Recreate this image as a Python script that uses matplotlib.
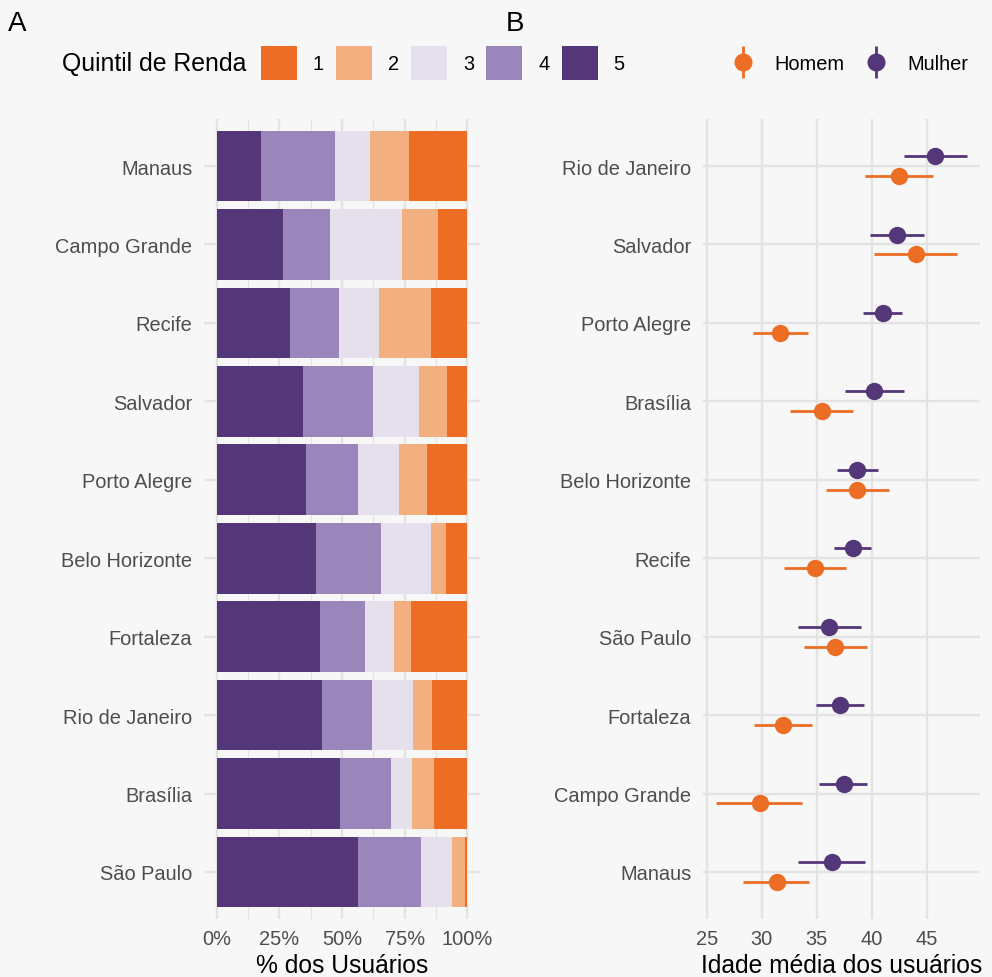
import matplotlib
matplotlib.use("Agg")
import matplotlib.pyplot as plt
import numpy as np
from matplotlib.patches import Patch
from matplotlib.lines import Line2D
from matplotlib.ticker import MultipleLocator, FixedLocator
from matplotlib.legend_handler import HandlerTuple

plt.rcParams['font.family'] = ['Liberation Sans', 'DejaVu Sans']

# Painel A: distribuição por quintil de renda (%)
cidades_a = ['Manaus', 'Campo Grande', 'Recife', 'Salvador', 'Porto Alegre',
             'Belo Horizonte', 'Fortaleza', 'Rio de Janeiro', 'Brasília', 'São Paulo']
q5 = [17.7, 26.3, 29.2, 34.6, 35.7, 39.7, 41.1, 42.0, 49.2, 56.4]
q4 = [29.5, 18.9, 19.8, 27.8, 20.7, 25.8, 18.1, 20.0, 20.4, 24.9]
q3 = [13.8, 28.7, 15.7, 18.2, 16.4, 19.9, 11.6, 16.2, 8.3, 12.5]
q2 = [15.7, 14.3, 20.7, 11.3, 11.1, 6.0, 6.7, 7.7, 8.7, 5.2]
q1 = [23.3, 11.8, 14.6, 8.1, 16.1, 8.6, 22.5, 14.1, 13.4, 1.0]
quintis = ['1', '2', '3', '4', '5']
cores_q = ['#EC6D24', '#F2AF80', '#E6E0EC', '#9A86BB', '#543778']

# Painel B: idade média por sexo (média e intervalo)
cidades_b = ['Rio de Janeiro', 'Salvador', 'Porto Alegre', 'Brasília', 'Belo Horizonte',
             'Recife', 'São Paulo', 'Fortaleza', 'Campo Grande', 'Manaus']
mulher_media = [45.8, 42.3, 41.0, 40.2, 38.7, 38.3, 36.15, 37.1, 37.45, 36.35]
mulher_inf = [42.9, 39.85, 39.2, 37.6, 36.85, 36.6, 33.3, 34.9, 35.25, 33.3]
mulher_sup = [48.7, 44.8, 42.8, 42.9, 40.6, 39.9, 39.0, 39.3, 39.6, 39.4]
homem_media = [42.5, 44.0, 31.7, 35.5, 38.7, 34.85, 36.7, 31.9, 29.8, 31.35]
homem_inf = [39.4, 40.2, 29.2, 32.6, 35.85, 32.0, 33.85, 29.3, 25.85, 28.3]
homem_sup = [45.6, 47.8, 34.2, 38.3, 41.6, 37.7, 39.6, 34.6, 33.7, 34.3]
cor_homem = '#EC6D24'
cor_mulher = '#543778'

fundo = '#F7F7F7'
grade = '#E3E3E3'
cinza = '#4D4D4D'

W, H = 992, 978
fig = plt.figure(figsize=(W / 100, H / 100), dpi=100, facecolor=fundo)

def eixo(x0, x1, y0, y1):
    return fig.add_axes([x0 / W, 1 - y1 / H, (x1 - x0) / W, (y1 - y0) / H])

def estilo(ax):
    ax.set_facecolor(fundo)
    for s in ax.spines.values():
        s.set_visible(False)
    ax.tick_params(axis='both', length=0, labelsize=14.4, labelcolor=cinza)
    ax.tick_params(axis='y', pad=8.5)
    ax.tick_params(axis='x', pad=7)
    ax.set_axisbelow(True)
    ax.grid(True, which='major', color=grade, lw=1.7)

# ---- A ----
axA = eixo(204, 480, 120, 920)
estilo(axA)
y = np.arange(len(cidades_a))
esquerda = np.zeros(len(cidades_a))
for vals, cor in zip([q5, q4, q3, q2, q1], cores_q[::-1]):
    axA.barh(y, vals, left=esquerda, height=0.9, color=cor, edgecolor='none')
    esquerda += np.array(vals)
axA.set_xlim(-5, 105)
axA.set_ylim(len(cidades_a) - 1 + 0.6, -0.6)
axA.set_yticks(y)
axA.set_yticklabels(cidades_a)
axA.set_xticks([0, 25, 50, 75, 100])
axA.set_xticklabels(['0%', '25%', '50%', '75%', '100%'])
axA.xaxis.set_minor_locator(FixedLocator([12.5, 37.5, 62.5, 87.5]))
axA.tick_params(axis='x', which='minor', length=0)
axA.grid(True, which='minor', axis='x', color=grade, lw=0.9)
axA.set_xlabel('% dos Usuários', fontsize=17.7, color='black', labelpad=4)

# ---- B ----
axB = eixo(703, 980, 120, 920)
estilo(axB)
yb = np.arange(len(cidades_b))
d = 0.127
for med, inf, sup, cor, desloc in [(mulher_media, mulher_inf, mulher_sup, cor_mulher, -d),
                                    (homem_media, homem_inf, homem_sup, cor_homem, d)]:
    med = np.array(med)
    axB.errorbar(med, yb + desloc,
                 xerr=[med - np.array(inf), np.array(sup) - med],
                 fmt='o', color=cor, ms=12.5, elinewidth=2.0, capsize=0,
                 markeredgewidth=0, zorder=3)
axB.set_xlim(24.66, 49.85)
axB.set_ylim(len(cidades_b) - 1 + 0.6, -0.6)
axB.set_yticks(yb)
axB.set_yticklabels(cidades_b)
axB.xaxis.set_major_locator(MultipleLocator(5))
axB.set_xlabel('Idade média dos usuários', fontsize=17.7, color='black', labelpad=4)

# ---- rótulos dos painéis ----
fig.text(8 / W, 1 - 31 / H, 'A', fontsize=20, color='black')
fig.text(506 / W, 1 - 31 / H, 'B', fontsize=20, color='black')

# ---- legenda A ----
fig.text(62 / W, 1 - 64 / H, 'Quintil de Renda', fontsize=17.9, color='black', va='center')
handles_q = [Patch(facecolor=c, edgecolor='none') for c in cores_q]
fig.legend(handles_q, quintis, loc='center left', bbox_to_anchor=(261 / W, 1 - 64 / H),
           ncol=5, frameon=False, fontsize=14.4, handlelength=1.8, handleheight=2.2,
           handletextpad=0.8, columnspacing=0.6, borderpad=0, borderaxespad=0)

# ---- legenda B ----
def chave(cor):
    return (Line2D([], [], marker='|', ms=23, mew=2.0, color=cor, ls='none'),
            Line2D([], [], marker='o', ms=13, mew=0, color=cor, ls='none'))

fig.legend([chave(cor_homem), chave(cor_mulher)], ['Homem', 'Mulher'],
           handler_map={tuple: HandlerTuple(ndivide=1)},
           loc='center left', bbox_to_anchor=(728 / W, 1 - 64 / H),
           ncol=2, frameon=False, fontsize=14.4, handlelength=1.5,
           handletextpad=0.8, columnspacing=0.85, borderpad=0, borderaxespad=0)

fig.savefig('out.png', dpi=100, facecolor=fundo)
